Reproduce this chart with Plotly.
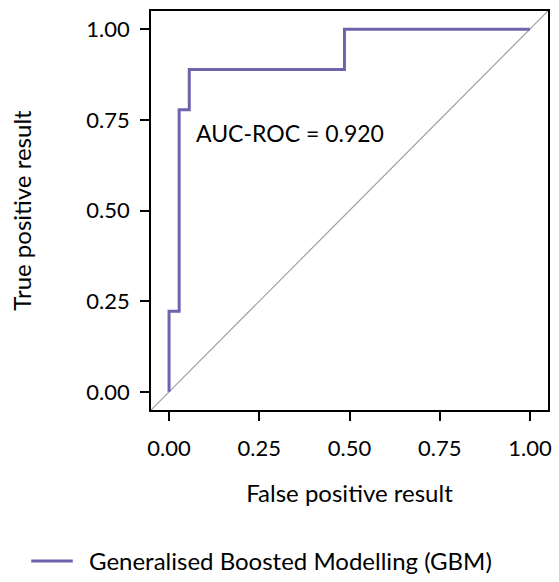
import plotly.graph_objects as go

fpr = [0.0, 0.0, 0.028, 0.028, 0.056, 0.056, 0.486, 0.486, 1.0]
tpr = [0.0, 0.222, 0.222, 0.778, 0.778, 0.889, 0.889, 1.0, 1.0]
diag_x = [-0.05, 1.05]
diag_y = [-0.05, 1.05]
tick_vals = [0.0, 0.25, 0.5, 0.75, 1.0]
tick_text = ["0.00", "0.25", "0.50", "0.75", "1.00"]
series_name = "Generalised Boosted Modelling (GBM)"
auc_label = "AUC-ROC = 0.920"

FONT = "Lato"
PURPLE = "#7262ac"
fig = go.Figure()
fig.add_trace(go.Scatter(x=diag_x, y=diag_y, mode="lines",
                         line=dict(color="#a0a0a0", width=1.2),
                         showlegend=False, hoverinfo="skip"))
fig.add_trace(go.Scatter(x=fpr, y=tpr, mode="lines", name=series_name,
                         line=dict(color=PURPLE, width=3), showlegend=False))

axis_common = dict(range=[-0.05, 1.05], tickvals=tick_vals, ticktext=tick_text,
                   ticks="outside", ticklen=9, tickwidth=1.5, tickcolor="black",
                   showline=True, linecolor="black", linewidth=1.5, mirror=True,
                   showgrid=False, zeroline=False,
                   tickfont=dict(family=FONT, size=22, color="black"))
fig.update_xaxes(**axis_common, ticklabelstandoff=9,
                 title=dict(text="False positive result", font=dict(family=FONT, size=24, color="black"), standoff=25))
fig.update_yaxes(**axis_common, ticklabelstandoff=6,
                 title=dict(text="True positive result", font=dict(family=FONT, size=24, color="black"), standoff=48))

fig.add_annotation(x=0.335, y=0.715, text=auc_label, showarrow=False,
                   font=dict(family=FONT, size=23, color="black"))

# legend drawn in paper coordinates
fig.add_shape(type="line", xref="paper", yref="paper",
              x0=-0.3017, x1=-0.197, y0=-0.3784, y1=-0.3784,
              line=dict(color=PURPLE, width=3))
fig.add_annotation(xref="paper", yref="paper", x=-0.162, y=-0.3784,
                   xanchor="left", yanchor="middle", text=series_name, showarrow=False,
                   font=dict(family=FONT, size=24, color="black"))

fig.update_layout(width=559, height=582,
                  margin=dict(l=151, r=7, t=11, b=172),
                  plot_bgcolor="white", paper_bgcolor="white",
                  showlegend=False)
fig.write_html("out.html", config={"displayModeBar": False},
               post_script="document.body.style.margin='0';")
